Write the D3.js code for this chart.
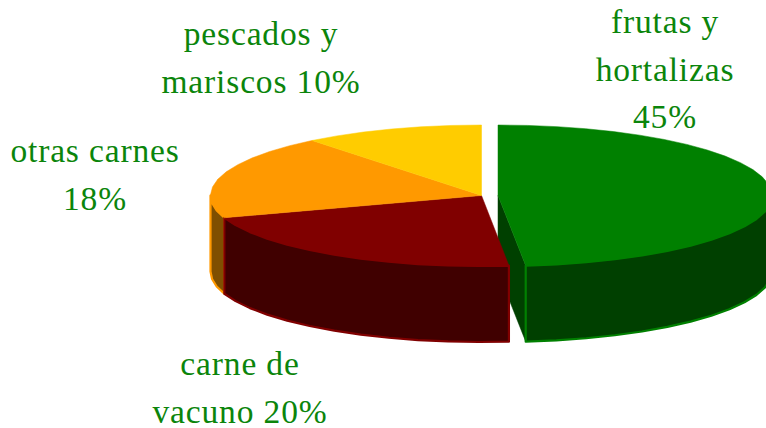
<!DOCTYPE html>
<html>
<head>
<meta charset="utf-8">
<script src="https://cdn.jsdelivr.net/npm/d3@7"></script>
<style>
html, body { margin: 0; padding: 0; background: #fff; overflow: hidden; }
svg { display: block; }
text { font-family: "Liberation Serif", serif; font-size: 33.5px; letter-spacing: 0.85px; fill: #0b850b; text-anchor: middle; }
</style>
</head>
<body>
<svg id="chart" width="766" height="428"></svg>
<script>
// values as printed on the labels (they add up to 93, the pie is normalised)
var categorias = ["frutas y hortalizas", "carne de vacuno", "otras carnes", "pescados y mariscos"];
var valores = [45, 20, 18, 10];
var lineasEtiqueta = [
	["frutas y", "hortalizas", "45%"],
	["carne de", "vacuno 20%"],
	["otras carnes", "18%"],
	["pescados y", "mariscos 10%"]
];

var coresTopo = ["#008000", "#800000", "#ff9900", "#ffcc00"];
var coresLado = ["#004000", "#400000", "#7f4f00", "#7f6600"];

// centre x / baseline of the first line of each label, line height is fixed
var posEtiqueta = [[665, 33], [240, 375], [95, 162], [261, 45]];
var alturaLinha = 47.5;

var svg = d3.select("#chart");

var rx = 271, ry = 70.5, cy = 195.5, prof = 76;
var cx = 481.5;
var deslocX = [16.5, 0, 0, 0]; // only the green slice is pulled out
var extraRx = [3, 0, 0, 0]; // green reaches a little further than the rest

var escalaY = d3.scaleLinear().domain([-1, 1]).range([cy - ry, cy + ry]);

var fatias = d3.pie().sort(null).value(function(d){ return d; })(valores);

function escalaX(i){
	var c = cx + deslocX[i];
	var r = rx + extraRx[i];
	return d3.scaleLinear().domain([-1, 1]).range([c - r, c + r]);
}

// coarse step on purpose, the original outline is visibly faceted
function arco(i, a0, a1, dy){
	var x = escalaX(i);
	var n = Math.max(1, Math.round(Math.abs(a1 - a0) / 0.11));
	return d3.range(n + 1).map(function(k){
		var a = a0 + (a1 - a0) * k / n;
		return [x(Math.sin(a)), escalaY(-Math.cos(a)) + dy];
	});
}

var linha = d3.line();

function desenha(pontos, fill, stroke, sw){
	svg.append("path")
		.attr("d", linha(pontos) + "Z")
		.attr("fill", fill)
		.attr("stroke", stroke)
		.attr("stroke-width", sw)
		.attr("stroke-linejoin", "round");
}

// only the part of the rim that faces the viewer (lower half of the ellipse)
function lado(i){
	var f = fatias[i];
	var a0 = Math.max(f.startAngle, Math.PI / 2);
	var a1 = Math.min(f.endAngle, Math.PI * 1.5);
	if(a1 <= a0) return;
	var cima = arco(i, a0, a1, 0);
	var baixo = arco(i, a1, a0, prof);
	desenha(cima.concat(baixo), coresLado[i], coresTopo[i], 2.2);
}

function topo(i){
	var f = fatias[i];
	var x = escalaX(i);
	var centro = [x(0), escalaY(0)];
	desenha([centro].concat(arco(i, f.startAngle, f.endAngle, 0)), coresTopo[i], coresTopo[i], 0.5);
}

// green: cut face, outer side, top
var fVerde = fatias[0];
var xV = escalaX(0);
var canto = arco(0, fVerde.endAngle, fVerde.endAngle, 0)[0];
var apice = [xV(0), escalaY(0)];
desenha([apice, canto, [canto[0], canto[1] + prof], [apice[0], apice[1] + prof]], coresLado[0], coresLado[0], 0.5);
lado(0);
topo(0);

lado(2);
lado(1);
topo(1);
topo(2);
topo(3);

lineasEtiqueta.forEach(function(linhas, i){
	linhas.forEach(function(t, j){
		svg.append("text")
			.attr("x", posEtiqueta[i][0])
			.attr("y", posEtiqueta[i][1] + j * alturaLinha)
			.text(t);
	});
});
</script>
</body>
</html>
